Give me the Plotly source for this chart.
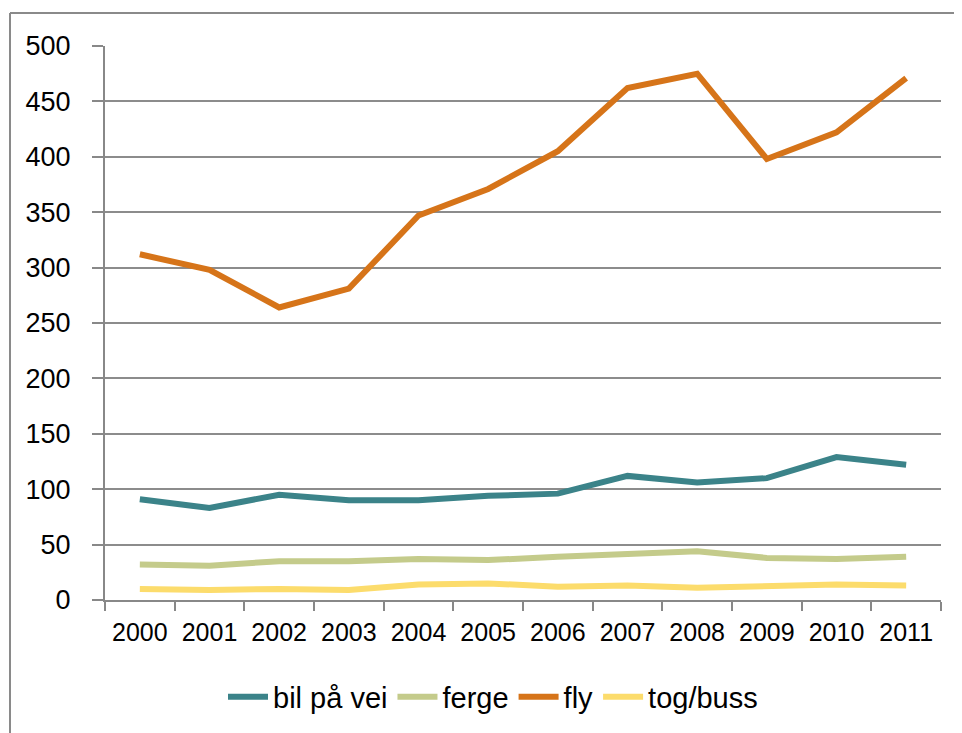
import plotly.graph_objects as go

years = ["2000", "2001", "2002", "2003", "2004", "2005", "2006", "2007", "2008", "2009", "2010", "2011"]
bil_paa_vei = [91, 83, 95, 90, 90, 94, 96, 112, 106, 110, 129, 122]
ferge = [32, 31, 35, 35, 37, 36, 39, 41, 44, 38, 37, 39]
fly = [312, 298, 264, 281, 347, 371, 405, 462, 475, 398, 422, 471]
tog_buss = [10, 9, 10, 9, 14, 15, 12, 13, 11, 12, 14, 13]

series_names = ["bil på vei", "ferge", "fly", "tog/buss"]
series_values = [bil_paa_vei, ferge, fly, tog_buss]
colors = ["#3B8389", "#C4CB8B", "#D67419", "#FCDC6C"]

FONT = "Liberation Sans Narrow, Liberation Sans, Arial, sans-serif"

fig = go.Figure()
for name, vals, col in zip(series_names, series_values, colors):
    fig.add_trace(go.Scatter(
        x=years, y=vals, name=name, mode="lines",
        line=dict(color=col, width=6),
    ))

# page body has an 8px margin; layout is built in figure pixels
OFF = 8
W, H = 962 - OFF, 733 - OFF
ml, mt = 105 - OFF, 46 - OFF
pw, ph = 836, 554
mr, mb = W - ml - pw, H - mt - ph

def px_x(p):
    return (p - OFF - ml) / pw

def px_y(p):
    return (mt + ph - (p - OFF)) / ph

def fnt(size):
    return dict(size=size, family=FONT, color="#000000")

fig.update_layout(
    width=W, height=H,
    margin=dict(l=ml, r=mr, t=mt, b=mb, autoexpand=False),
    paper_bgcolor="white", plot_bgcolor="white",
    font=fnt(25),
    showlegend=True,
    legend=dict(
        orientation="h", x=px_x(493), xanchor="center", y=px_y(697), yanchor="middle",
        font=fnt(29), itemwidth=40,
        traceorder="normal",
    ),
    xaxis=dict(
        type="category", range=[-0.5, 11.5], automargin=False,
        showgrid=False, showline=True, linecolor="#888888", linewidth=2,
        ticks="outside", ticklen=9, tickcolor="#888888", tickwidth=2,
        tickson="boundaries", tickangle=0, ticklabelstandoff=9,
        tickfont=fnt(25),
        zeroline=False,
    ),
    yaxis=dict(
        range=[0, 500], tick0=0, dtick=50, automargin=False,
        showgrid=True, gridcolor="#8c8c8c", gridwidth=2,
        showline=True, linecolor="#888888", linewidth=2,
        ticks="outside", ticklen=11, tickcolor="#888888", tickwidth=2,
        ticklabelstandoff=16,
        tickfont=fnt(27),
        zeroline=False,
    ),
    shapes=[
        dict(type="line", xref="paper", yref="paper",
             x0=px_x(10), x1=px_x(10), y0=px_y(13), y1=px_y(760),
             line=dict(color="#8a8a8a", width=2)),
        dict(type="line", xref="paper", yref="paper",
             x0=px_x(10), x1=px_x(980), y0=px_y(13), y1=px_y(13),
             line=dict(color="#8a8a8a", width=2)),
    ],
)

fig.write_html("out.html")
